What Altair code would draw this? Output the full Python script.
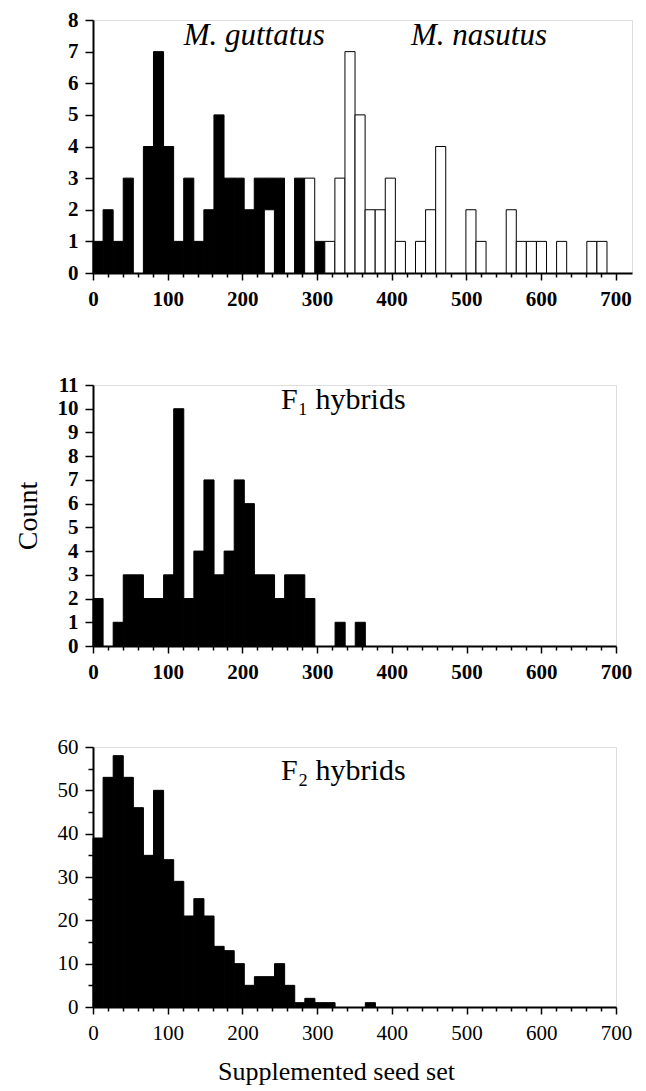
import altair as alt
import pandas as pd

FONT = "Liberation Serif"
BIN_WIDTH = 13.5

# counts per bin (bin i covers [13.5*i, 13.5*(i+1)))
guttatus_counts = [1, 2, 1, 3, 0, 4, 7, 4, 1, 3, 1, 2, 5, 3, 3, 2, 3, 3, 3, 0, 3, 0, 1]
nasutus_counts = [0] * 17 + [2, 0, 0, 0, 3, 0, 1, 3, 7, 5, 2, 2, 3, 1, 0, 1, 2, 4, 0, 0,
                             2, 1, 0, 0, 2, 1, 1, 1, 0, 1, 0, 0, 1, 1]
f1_counts = [2, 0, 1, 3, 3, 2, 2, 3, 10, 2, 4, 7, 3, 4, 7, 6, 3, 3, 2, 3, 3, 2, 0, 0, 1, 0, 1]
f2_counts = [39, 53, 58, 53, 46, 35, 50, 34, 29, 21, 25, 21, 14, 13, 10, 5, 7, 7, 10, 5,
             1, 2, 1, 1, 0, 0, 0, 1]

x_tick_values = list(range(0, 701, 20))
top_y_values = list(range(0, 9))
f1_y_values = list(range(0, 12))
f2_y_values = list(range(0, 61, 5))

top_labels = ["M. guttatus", "M. nasutus"]
top_label_x = [216, 517]
top_label_y = [7.2, 7.2]
f1_label = ["F\u2081 hybrids"]
f2_label = ["F\u2082 hybrids"]

TICK_FS = 21


def bins(counts):
    rows = []
    for i, c in enumerate(counts):
        if c > 0:
            rows.append({"start": i * BIN_WIDTH, "end": (i + 1) * BIN_WIDTH, "count": c})
    return pd.DataFrame(rows)


def x_axis(weight, title=None, min_extent=None, title_x=None):
    kw = dict(
        values=x_tick_values,
        labelExpr="datum.value % 100 === 0 ? datum.label : ''",
        tickSize={"condition": {"test": "datum.value % 100 === 0", "value": 7}, "value": 4},
        labelFont=FONT, labelFontSize=TICK_FS, labelFontWeight=weight, labelColor="black",
        labelPadding=8, tickColor="black", tickWidth=1.5,
        domainColor="black", domainWidth=2, grid=False, labelOverlap=False,
        labelFlush=False,
    )
    if title is not None:
        kw.update(title=title, titleFont=FONT, titleFontSize=26, titleFontWeight="normal",
                  titleColor="black", titlePadding=15)
    else:
        kw.update(title=None)
    if min_extent is not None:
        kw.update(minExtent=min_extent)
    if title_x is not None:
        kw.update(titleX=title_x)
    return alt.Axis(**kw)


def y_axis(values, weight, title=None, label_expr=None, tick_expr=None):
    kw = dict(
        values=values, labelFont=FONT, labelFontSize=TICK_FS, labelFontWeight=weight,
        labelColor="black", labelPadding=7, tickColor="black", tickWidth=1.5,
        domainColor="black", domainWidth=2, grid=False, labelOverlap=False,
        labelFlush=False,
    )
    if label_expr is not None:
        kw.update(labelExpr=label_expr)
    if tick_expr is not None:
        kw.update(tickSize=tick_expr)
    else:
        kw.update(tickSize=8)
    if title is not None:
        kw.update(title=title, titleFont=FONT, titleFontSize=28, titleFontWeight="normal",
                  titleColor="black", titlePadding=15)
    else:
        kw.update(title=None)
    return alt.Axis(**kw)


# ---------- top panel ----------
gut_df = bins(guttatus_counts)
nas_df = bins(nasutus_counts)
x_top = alt.Scale(domain=[0, 722], nice=False, zero=False)
y_top = alt.Scale(domain=[0, 8], nice=False)
xa_top = x_axis("bold", min_extent=47)
ya_top = y_axis(top_y_values, "bold")

gut = alt.Chart(gut_df).mark_bar(fill="black", stroke="black", strokeWidth=1).encode(
    x=alt.X("start:Q", scale=x_top, axis=xa_top),
    x2="end:Q",
    y=alt.Y("count:Q", scale=y_top, axis=ya_top),
    y2=alt.datum(0),
)
nas = alt.Chart(nas_df).mark_bar(fill="white", stroke="black", strokeWidth=1).encode(
    x=alt.X("start:Q", scale=x_top, axis=xa_top),
    x2="end:Q",
    y=alt.Y("count:Q", scale=y_top, axis=ya_top),
    y2=alt.datum(0),
)
top_text = alt.Chart(pd.DataFrame({"x": top_label_x, "y": top_label_y, "t": top_labels})).mark_text(
    font=FONT, fontSize=31, fontStyle="italic", color="black", align="center", baseline="alphabetic"
).encode(x=alt.X("x:Q", scale=x_top, axis=xa_top), y=alt.Y("y:Q", scale=y_top, axis=ya_top), text="t:N")
top = alt.layer(gut, nas, top_text).properties(width=539, height=253)

# ---------- F1 panel ----------
x_mid = alt.Scale(domain=[0, 700], nice=False, zero=False)
y_f1 = alt.Scale(domain=[0, 11], nice=False)
xa_mid = x_axis("bold")
ya_mid = y_axis(f1_y_values, "bold", title="Count")
f1 = alt.Chart(bins(f1_counts)).mark_bar(fill="black", stroke="black", strokeWidth=1).encode(
    x=alt.X("start:Q", scale=x_mid, axis=xa_mid),
    x2="end:Q",
    y=alt.Y("count:Q", scale=y_f1, axis=ya_mid),
    y2=alt.datum(0),
)
f1_text = alt.Chart(pd.DataFrame({"x": [335], "y": [10.0], "t": f1_label})).mark_text(
    font=FONT, fontSize=30, color="black", align="center", baseline="alphabetic"
).encode(x=alt.X("x:Q", scale=x_mid, axis=xa_mid), y=alt.Y("y:Q", scale=y_f1, axis=ya_mid), text="t:N")
mid = alt.layer(f1, f1_text).properties(width=523, height=261)

# ---------- F2 panel ----------
y_f2 = alt.Scale(domain=[0, 60], nice=False)
xa_bot = x_axis("normal", title="Supplemented seed set", title_x=243)
ya_bot = y_axis(
    f2_y_values, "normal",
    label_expr="datum.value % 10 === 0 ? datum.label : ''",
    tick_expr={"condition": {"test": "datum.value % 10 === 0", "value": 8}, "value": 5},
)
f2 = alt.Chart(bins(f2_counts)).mark_bar(fill="black", stroke="black", strokeWidth=1).encode(
    x=alt.X("start:Q", scale=x_mid, axis=xa_bot),
    x2="end:Q",
    y=alt.Y("count:Q", scale=y_f2, axis=ya_bot),
    y2=alt.datum(0),
)
f2_text = alt.Chart(pd.DataFrame({"x": [335], "y": [52.3], "t": f2_label})).mark_text(
    font=FONT, fontSize=30, color="black", align="center", baseline="alphabetic"
).encode(x=alt.X("x:Q", scale=x_mid, axis=xa_bot), y=alt.Y("y:Q", scale=y_f2, axis=ya_bot), text="t:N")
bot = alt.layer(f2, f2_text).properties(width=523, height=260)

chart = alt.vconcat(top, mid, bot, spacing=52).properties(
    padding={"left": 5, "top": 0, "right": 5, "bottom": 2}
).configure_view(stroke=None).configure(background="white").configure_axis(labelOverlap=False)

chart.save("out.html", embed_options={"renderer": "svg", "actions": False})
